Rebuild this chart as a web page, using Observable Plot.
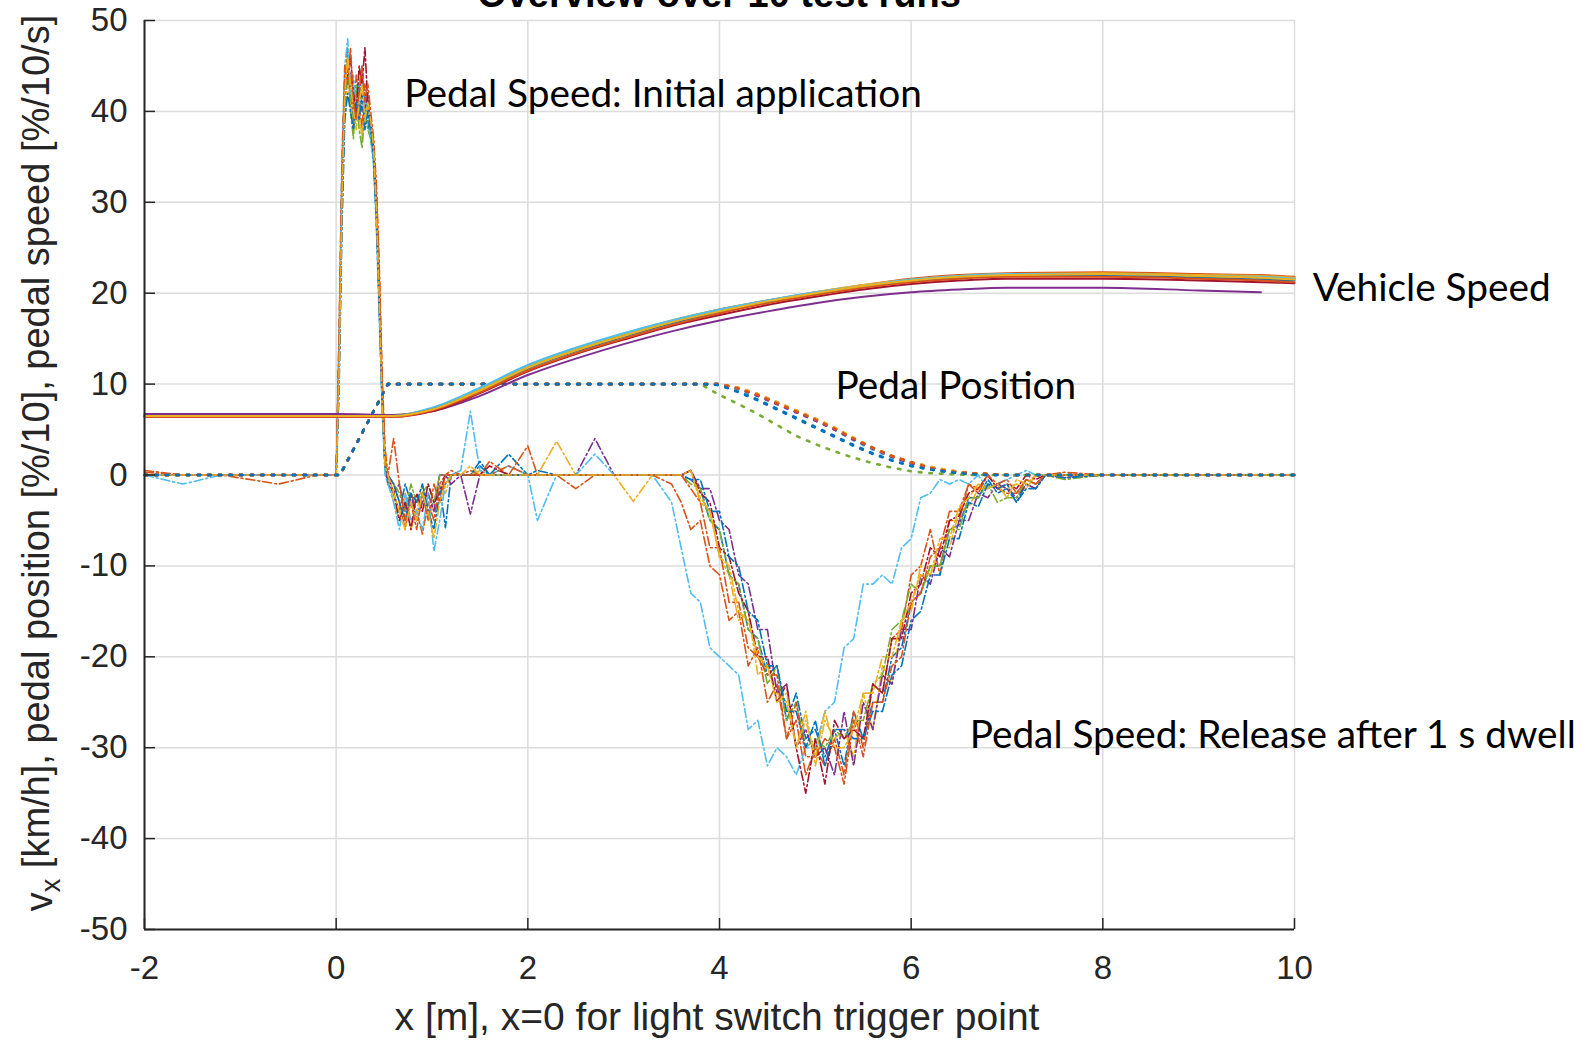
<!DOCTYPE html>
<html>
<head>
<meta charset="utf-8">
<script src="https://cdn.jsdelivr.net/npm/d3@7"></script>
<script src="https://cdn.jsdelivr.net/npm/@observablehq/plot@0.6"></script>
<style>
  html, body { margin: 0; padding: 0; background: #fff; overflow: hidden; }
  #chart svg { display: block; }
</style>
</head>
<body>
<div id="chart"></div>
<script>
// ---------- categories / ticks ----------
const runColors = ["#0072BD", "#D95319", "#EDB120", "#7E2F8E", "#77AC30", "#4DBEEE", "#A2142F", "#0072BD", "#D95319", "#EDB120"];
const xTicks = [-2, 0, 2, 4, 6, 8, 10];
const yTicks = [-50, -40, -30, -20, -10, 0, 10, 20, 30, 40, 50];
const titleText = "Overview over 10 test runs";
const xLabelText = "x [m], x=0 for light switch trigger point";

// ---------- vehicle speed (solid) ----------
const vsX = [-2, 0, 0.6, 1.0, 1.5, 2.0, 2.5, 3.0, 3.5, 4.0, 4.5, 5.0, 5.5, 6.0, 6.5, 7.0, 8.0, 9.0, 9.65, 10.0];
const vehicleSpeed = [
  [6.5, 6.5, 6.5, 7.2, 9.3, 11.8, 13.7, 15.3, 16.8, 18.1, 19.1, 20.0, 20.8, 21.5, 21.9, 22.1, 22.2, 22.0, 21.9, 21.7],
  [6.6, 6.6, 6.6, 7.3, 9.4, 11.9, 13.8, 15.4, 16.9, 18.2, 19.2, 20.1, 20.9, 21.6, 22.0, 22.2, 22.3, 22.1, 22.0, 21.8],
  [6.5, 6.5, 6.5, 7.3, 9.4, 11.9, 13.9, 15.5, 17.0, 18.2, 19.2, 20.1, 20.9, 21.5, 21.9, 22.1, 22.2, 22.0, 21.9, 21.7],
  [6.7, 6.7, 6.6, 7.0, 8.7, 11.0, 12.8, 14.4, 15.8, 17.0, 18.0, 18.9, 19.6, 20.1, 20.4, 20.6, 20.6, 20.3, 20.1, null],
  [6.5, 6.5, 6.5, 7.2, 9.3, 11.8, 13.7, 15.3, 16.8, 18.0, 19.0, 19.9, 20.7, 21.4, 21.8, 22.0, 22.1, 21.9, 21.7, 21.5],
  [6.5, 6.5, 6.5, 7.4, 9.6, 12.1, 14.0, 15.6, 17.0, 18.2, 19.2, 20.1, 20.8, 21.5, 21.9, 22.1, 22.1, 21.9, 21.8, 21.6],
  [6.4, 6.4, 6.4, 7.0, 9.0, 11.4, 13.3, 14.9, 16.4, 17.6, 18.7, 19.6, 20.4, 21.0, 21.4, 21.6, 21.6, 21.4, 21.2, 21.1],
  [6.5, 6.5, 6.5, 7.2, 9.2, 11.7, 13.6, 15.2, 16.7, 17.9, 19.0, 19.9, 20.7, 21.3, 21.7, 21.9, 21.9, 21.7, 21.5, 21.4],
  [6.4, 6.4, 6.4, 7.1, 9.1, 11.5, 13.4, 15.0, 16.5, 17.8, 18.9, 19.8, 20.6, 21.2, 21.6, 21.8, 21.8, 21.6, 21.4, 21.2],
  [6.5, 6.5, 6.5, 7.2, 9.3, 11.8, 13.7, 15.3, 16.8, 18.0, 19.1, 20.0, 20.8, 21.4, 21.8, 22.0, 22.1, 21.9, 21.7, 21.5]
];

// ---------- pedal position (dotted) ----------
const ppX = [-2, 0.04, 0.54, 3.8, 4.0, 4.2, 4.4, 4.6, 4.8, 5.0, 5.2, 5.4, 5.6, 5.8, 6.0, 6.2, 6.4, 6.6, 6.8, 7.0, 10];
const pedalPosition = [
  [0, 0, 10, 10, 9.9, 9.1, 8.2, 7.2, 6.2, 5.2, 4.2, 3.2, 2.3, 1.6, 1.0, 0.6, 0.3, 0.1, 0, 0, 0],
  [0, 0, 10, 10, 10, 9.5, 8.8, 7.9, 7.0, 6.1, 5.1, 4.0, 3.0, 2.1, 1.4, 0.8, 0.4, 0.2, 0.1, 0, 0],
  [0, 0, 10, 10, 10, 9.6, 8.9, 8.0, 7.1, 6.2, 5.2, 4.1, 3.0, 2.1, 1.4, 0.9, 0.5, 0.2, 0.1, 0, 0],
  [0, 0, 10, 10, 10, 9.5, 8.7, 7.8, 6.9, 6.0, 5.0, 3.9, 2.9, 2.0, 1.3, 0.8, 0.4, 0.2, 0.1, 0, 0],
  [0, 0, 10, 10, 8.8, 7.8, 6.7, 5.5, 4.3, 3.4, 2.6, 1.9, 1.3, 0.8, 0.4, 0.2, 0.1, 0, 0, 0, 0],
  [0, 0, 10, 10, 10, 9.4, 8.7, 7.8, 6.9, 6.0, 5.0, 3.8, 2.8, 1.9, 1.2, 0.7, 0.4, 0.2, 0, 0, 0],
  [0, 0, 10, 10, 10, 9.5, 8.8, 7.9, 7.0, 6.1, 5.0, 3.9, 2.9, 2.0, 1.3, 0.8, 0.4, 0.2, 0.1, 0, 0],
  [0, 0, 10, 10, 9.9, 9.2, 8.3, 7.3, 6.3, 5.3, 4.3, 3.3, 2.4, 1.6, 1.0, 0.6, 0.3, 0.1, 0, 0, 0],
  [0, 0, 10, 10, 10, 9.6, 8.9, 8.0, 7.1, 6.2, 5.2, 4.0, 3.0, 2.1, 1.4, 0.9, 0.5, 0.2, 0.1, 0, 0],
  [0, 0, 10, 10, 10, 9.5, 8.8, 7.9, 7.0, 6.1, 5.1, 4.0, 2.9, 2.0, 1.3, 0.8, 0.4, 0.2, 0.1, 0, 0]
];

// ---------- pedal speed (dash-dot), read in segments ----------
const psXPre = [-2, -1.6, -1.2, -0.6, -0.2, 0];
const psXPeak = [0.03, 0.06, 0.09, 0.12, 0.15, 0.18, 0.21, 0.24, 0.27, 0.30, 0.33, 0.36, 0.39, 0.42, 0.45, 0.48, 0.51, 0.54];
const psXUnder = [0.6, 0.66, 0.72, 0.78, 0.84, 0.9, 0.96, 1.02, 1.08, 1.14, 1.2, 1.3];
const psXNoise = [1.4, 1.5, 1.6, 1.8, 2.0, 2.1, 2.3, 2.5, 2.7, 2.9, 3.1, 3.3, 3.5];
const psXRelease = [3.6, 3.7, 3.8, 3.9, 4.0, 4.1, 4.2, 4.3, 4.4, 4.5,
                    4.6, 4.7, 4.8, 4.9, 5.0, 5.1, 5.2, 5.3, 5.4, 5.5,
                    5.6, 5.7, 5.8, 5.9, 6.0, 6.1, 6.2, 6.3, 6.4, 6.5,
                    6.6, 6.7, 6.8, 6.9, 7.0, 7.1, 7.2, 7.3, 7.4];
const psXEnd = [7.6, 8.0, 10];

const psPre = [
  [0, 0, 0, 0, 0, 0],
  [0.5, 0, 0, -1, 0, 0],
  [0, 0, 0, 0, 0, 0],
  [0, 0, 0, 0, 0, 0],
  [0, 0, 0, 0, 0, 0],
  [0, -1, 0, 0, 0, 0],
  [0, 0, 0, 0, 0, 0],
  [0, 0, 0, 0, 0, 0],
  [0.3, 0, 0, 0, 0, 0],
  [0, 0, 0, 0, 0, 0]
];
const psPeak = [
  [12, 30, 41, 44, 42, 39, 41, 43, 40, 42, 39, 37, 35, 28, 19, 8, 1, -1],
  [15, 33, 44, 47, 43, 40, 44, 41, 38, 43, 41, 39, 37, 31, 22, 10, 2, 0],
  [10, 28, 40, 43, 41, 38, 42, 40, 37, 41, 40, 38, 36, 30, 21, 9, 2, 0],
  [13, 31, 42, 45, 44, 41, 39, 42, 44, 40, 42, 38, 36, 29, 20, 9, 1, -1],
  [11, 29, 41, 46, 40, 37, 43, 38, 36, 40, 38, 37, 35, 29, 19, 8, 1, 0],
  [14, 35, 45, 48, 42, 44, 40, 43, 45, 39, 41, 37, 34, 27, 17, 7, 0, -1],
  [12, 32, 43, 44, 46, 42, 40, 45, 43, 47, 41, 39, 36, 30, 20, 9, 1, 0],
  [9, 27, 39, 42, 40, 38, 41, 39, 42, 38, 40, 38, 35, 28, 18, 8, 1, 0],
  [16, 34, 45, 43, 47, 41, 39, 42, 45, 41, 43, 40, 37, 32, 23, 11, 3, 0],
  [11, 30, 42, 46, 43, 40, 38, 41, 43, 39, 41, 39, 36, 29, 19, 8, 1, 0]
];
const psUnder = [
  [-2, -4, -1, -3, -5, -2, -4, -3, -1, -5.8, 0, 0],
  [-1, -3, -6, -2, -4, -6.5, -3, -5, -1, 0, 0.5, 0],
  [-3, -5, -2, -6, -4, -1, -5, -3, -1, -2, 0, 0],
  [-2, -1, -4, -2, -5, -3, -2, -4, 0, 0, -1, 0],
  [-1, -2, -4, -1, -3, -2, -1, -3, 0, 0, 0, 0],
  [-3, -6, -2, -5, -4, -6, -2, -8.4, -5, -1, 0, 0.5],
  [-2, -5, -3, -6, -2, -4, -1, -3, -2, 0, 0, 0],
  [-1, -3, -5, -2, -3, -1, -4, -6, -2, -1, 0, 0],
  [4, -1, -5, -3, -6, -2, -5, -1, -3, 0, 0, 0],
  [-2, -4, -6, -3, -5, -2, -4, -7, -3, -1, 0, 0]
];
const psNoise = [
  [0, 1, 0, 2.3, 0, 0.5, 0, 0, 0, 0, 0, 0, 0],
  [0.5, 0, 1.5, 0, 3.2, 0, 0, -1.5, 0, 0, 0, 0, -1],
  [0, 0.5, 0, 0, 0, 0, 3.7, 0, 0, 0, -2.9, 0, 0],
  [-4.3, 0, 0, 0, 0, 0, 0, 0, 4, 0, 0, 0, 0],
  [0, 0, 0, 0, 0, 0, 0, 0, 0, 0, 0, 0, 0],
  [7, 0.5, 0, 1, 0, -5, 0, 0, 2.3, 0, 0, 0, -3],
  [0, 0, 1, 0, 0, 0, 0, 0, 0, 0, 0, 0, 0],
  [0, 1.5, 0, 0, 0, 0, 0, 0, 0, 0, 0, 0, 0],
  [0, 0, 0, 1, 0, 0, 0, 0, 0, 0, 0, 0, 0],
  [1, 0, 0, 0, 0, 0, 0, 0, 0, 0, 0, 0, 0]
];
const psRelease = [
  [0, -0.5, -1.5, -5, -6, -11, -12, -17, -18, -22,
   -21, -27, -24, -29, -28, -31, -28, -32, -26, -29,
   -25, -25, -20, -19, -14, -13, -10, -10, -6, -5.5,
   -2.5, -2.5, -0.5, -2, -1.5, -3, -1, -1.5, 0],
  [-3, -6, -5, -10, -11, -16, -15, -21, -19, -25,
   -23, -29, -27, -33, -30, -32, -29, -33, -26, -30,
   -23, -24, -18, -17, -11, -10, -6, -11, -5, -5,
   -1, -2, 0, -1.5, -2, -2, -0.5, -1, 0],
  [0, 0.5, -3, -4, -9, -11, -16, -15, -22, -21,
   -24, -25, -30, -26, -32, -27, -29, -28, -31, -24,
   -28, -21, -23, -16, -15, -10, -11, -8, -8, -4,
   -3.5, -1.5, -1.5, -1, -1.5, -1, -1.5, 0, 0],
  [0, 0.5, -1.5, -1.5, -5, -6, -11, -12, -17, -17,
   -24, -23, -30, -28, -31, -30, -33, -26, -32, -25,
   -28, -22, -23, -17, -17, -11, -12, -8, -9, -5,
   -5, -2, -2.5, -1, -1.5, -2.5, -1, -1.5, 0],
  [0, -1, -1.5, -5, -6, -11, -12, -17, -18, -23,
   -21, -27, -25, -30, -29, -30, -28, -29, -27, -27,
   -23, -22, -17, -16, -12, -13, -10, -10, -6, -6,
   -2.5, -2.5, -1, -3, -2.5, -2.5, -0.5, -1, 0],
  [-8, -13, -14, -19, -20, -21, -22, -28, -27, -32,
   -30, -31, -33, -30, -30, -26, -25, -19, -18, -12,
   -12, -11, -12, -8, -7, -2.5, -2, -0.5, -1, -0.5,
   -1, 0, -1.5, -1, -0.5, 0, 0.5, 0, 0],
  [0, 0.5, -2, -3, -8, -9, -13, -15, -20, -20,
   -25, -23, -30, -35, -29, -34, -27, -29, -28, -29,
   -23, -24, -18, -18, -13, -12, -8, -9, -5, -4.5,
   -2, -1.5, 0, -1.5, -1, -1.5, 0, -0.5, 0],
  [0, -0.5, -0.5, -4, -4, -9, -10, -15, -16, -21,
   -21, -26, -26, -30, -27, -32, -28, -28, -29, -29,
   -26, -26, -22, -21, -16, -15, -11, -11, -7, -7,
   -3, -3.5, -1, -1.5, -1, -3, -1.5, -1.5, 0],
  [0, -1.5, -3, -8, -8, -14, -14, -19, -20, -22,
   -22, -29, -25, -31, -31, -29, -30, -34, -27, -31,
   -25, -25, -21, -20, -14, -13, -9, -8, -4, -4,
   -1, -1.5, 0, -1, -0.5, -2, -0.5, -1, 0],
  [0, 0.5, -2.5, -4, -9, -10, -15, -16, -20, -21,
   -25, -24, -30, -27, -31, -26, -30, -30, -28, -24,
   -24, -20, -20, -16, -14, -11, -11, -7, -7, -3.5,
   -2.5, -1, -1.5, -1, -2.5, -0.5, -1, 0, 0]
];
const psEnd = [
  [-0.3, 0, 0], [0.3, 0, 0], [0, 0, 0], [-0.3, 0, 0], [-0.5, 0, 0],
  [0, 0, 0], [0, 0, 0], [-0.3, 0, 0], [0, 0, 0], [0, 0, 0]
];

// ---------- annotations ----------
const annoText = ["Pedal Speed: Initial application", "Pedal Position", "Vehicle Speed", "Pedal Speed: Release after 1 s dwell"];
const annoX = [0.71, 5.21, 10.19, 6.61];
const annoY = [41.9, 9.7, 20.5, -28.7];

// ---------- build tables ----------
const psX = [...psXPre, ...psXPeak, ...psXUnder, ...psXNoise, ...psXRelease, ...psXEnd];
const psRows = runColors.flatMap((c, i) => {
  const ys = [...psPre[i], ...psPeak[i], ...psUnder[i], ...psNoise[i], ...psRelease[i], ...psEnd[i]];
  return ys.map((y, j) => ({run: i, color: c, x: psX[j], y}));
});
// pedal position: first run drawn last (on top), as in the reference
const ppRows = runColors.map((c, i) => i).reverse()
  .flatMap(i => pedalPosition[i].map((y, j) => ({run: i, color: runColors[i], x: ppX[j], y})));
const vsRows = runColors.flatMap((c, i) => vehicleSpeed[i].map((y, j) => ({run: i, color: c, x: vsX[j], y})));
const annos = annoText.map((t, i) => ({t, x: annoX[i], y: annoY[i]}));

const W = 1585, H = 1041;
const mL = 144, mR = 291, mT = 20, mB = 112;
const axisColor = "#262626";
const gridColor = "#dcdcdc";

const chart = Plot.plot({
  width: W, height: H,
  marginLeft: mL, marginRight: mR, marginTop: mT, marginBottom: mB,
  style: {fontFamily: "'Liberation Sans', Arial, Helvetica, sans-serif", background: "#fff", overflow: "visible"},
  x: {domain: [-2, 10]},
  y: {domain: [-50, 50]},
  color: {type: "identity"},
  marks: [
    Plot.ruleX(xTicks, {stroke: gridColor, strokeWidth: 1.5}),
    Plot.ruleY(yTicks, {stroke: gridColor, strokeWidth: 1.5}),
    Plot.line(psRows, {x: "x", y: "y", z: "run", stroke: "color", strokeWidth: 1.6, strokeDasharray: "9,3,2,3"}),
    Plot.line(ppRows, {x: "x", y: "y", z: "run", stroke: "color", strokeWidth: 2.6, strokeDasharray: "2.6,8"}),
    Plot.line(vsRows, {x: "x", y: "y", z: "run", stroke: "color", strokeWidth: 2, curve: "monotone-x"}),
    Plot.ruleX([-2], {stroke: axisColor, strokeWidth: 2}),
    Plot.ruleY([-50], {stroke: axisColor, strokeWidth: 2}),
    Plot.axisX(xTicks, {anchor: "bottom", tickSize: -11, tickFormat: () => "", color: axisColor, strokeWidth: 1.5, label: null}),
    Plot.axisY(yTicks, {anchor: "left", tickSize: -11, tickFormat: () => "", color: axisColor, strokeWidth: 1.5, label: null}),
    Plot.axisX(xTicks, {anchor: "bottom", tickSize: 0, tickPadding: 26, fontSize: 33, tickFormat: d => String(d), color: axisColor, label: null}),
    Plot.axisY(yTicks, {anchor: "left", tickSize: 0, tickPadding: 17, fontSize: 33, tickFormat: d => String(d), color: axisColor, label: null}),
    Plot.text(annos, {x: "x", y: "y", text: "t", textAnchor: "start", fontSize: 38.8, fontFamily: "Lato", fill: "#000"})
  ]
});

document.getElementById("chart").appendChild(chart);

// title and axis labels (real text) added to the same svg
const svg = d3.select(chart);
const cx = mL + (W - mL - mR) / 2;
svg.append("text")
  .attr("x", cx).attr("y", 7)
  .attr("text-anchor", "middle")
  .attr("font-family", "'Liberation Sans', Arial, sans-serif")
  .attr("font-weight", "bold").attr("font-size", 38)
  .attr("fill", "#000")
  .text(titleText);

svg.append("text")
  .attr("x", cx - 2).attr("y", 1030)
  .attr("text-anchor", "middle")
  .attr("font-family", "'Liberation Sans', Arial, sans-serif")
  .attr("font-size", 39)
  .attr("fill", axisColor)
  .text(xLabelText);

const yl = svg.append("text")
  .attr("transform", "translate(52,463) rotate(-90)")
  .attr("text-anchor", "middle")
  .attr("font-family", "'Liberation Sans', Arial, sans-serif")
  .attr("font-size", 38)
  .attr("fill", axisColor);
yl.append("tspan").text("v");
yl.append("tspan").attr("dy", "0.3em").attr("font-size", 27).text("x");
yl.append("tspan").attr("dy", "-0.3em").text(" [km/h], pedal position [%/10], pedal speed [%/10/s]");
</script>
</body>
</html>
